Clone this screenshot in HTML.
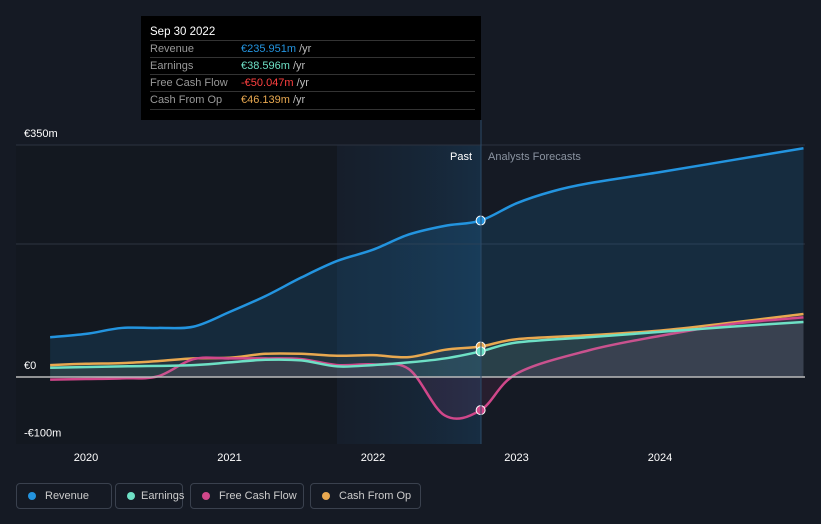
<!DOCTYPE html>
<html><head><meta charset="utf-8"><style>
body{margin:0;width:821px;height:524px;background:#151a24;font-family:"Liberation Sans",sans-serif;overflow:hidden;position:relative}
.tt{position:absolute;left:141px;top:16px;width:340px;height:104px;background:#000;color:#fff;font-size:11px}
.tt .h{position:absolute;left:9px;top:10px;font-size:11.5px}
.row{position:absolute;left:9px;width:325px;border-top:1px solid #333;height:17px;line-height:17px;color:#999}
.row span{position:absolute;left:91px}
.lg{position:absolute;top:483px;height:26px;border:1px solid #3a414e;border-radius:4px;color:#ccc;font-size:11px;line-height:24px;box-sizing:border-box;padding-left:28px;white-space:nowrap}
.lg i{position:absolute;left:11px;top:8px;width:8px;height:8px;border-radius:50%}
</style></head><body>
<svg id="c" width="821" height="524" style="position:absolute;left:0;top:0"></svg>
<div class="tt">
<div class="h">Sep 30 2022</div>
<div class="row" style="top:24px">Revenue<span style="color:#2394df">€235.951m <b style="color:#bbb;font-weight:normal">/yr</b></span></div>
<div class="row" style="top:41px">Earnings<span style="color:#6ee0c5">€38.596m <b style="color:#bbb;font-weight:normal">/yr</b></span></div>
<div class="row" style="top:58px">Free Cash Flow<span style="color:#ff4040">-€50.047m <b style="color:#bbb;font-weight:normal">/yr</b></span></div>
<div class="row" style="top:75px;border-bottom:1px solid #333">Cash From Op<span style="color:#e8a850">€46.139m <b style="color:#bbb;font-weight:normal">/yr</b></span></div>
</div>
<div class="lg" style="left:16px;width:96px"><i style="background:#2394df"></i>Revenue</div>
<div class="lg" style="left:115px;width:68px;padding-left:25px"><i style="background:#6ee0c5"></i>Earnings</div>
<div class="lg" style="left:190px;width:114px"><i style="background:#d0478a"></i>Free Cash Flow</div>
<div class="lg" style="left:310px;width:111px"><i style="background:#e8a850"></i>Cash From Op</div>
<script>
const revT=[2019.75,2020,2020.25,2020.5,2020.75,2021,2021.25,2021.5,2021.75,2022,2022.25,2022.5,2022.75,2023,2023.25,2023.5,2024,2024.5,2025];
const revV=[60,65,74,74,76,98,122,150,175,192,215,228,236,262,280,292,309,327,345];
const earnT=[2019.75,2020.25,2020.75,2021,2021.25,2021.5,2021.75,2022,2022.25,2022.5,2022.75,2023,2023.5,2024,2024.5,2025];
const earnV=[14,16,18,22,26,25,16,18,22,28,38.6,52,60,68,76,83];
const fcfT=[2019.75,2020,2020.25,2020.5,2020.75,2021,2021.25,2021.5,2021.75,2022,2022.25,2022.5,2022.75,2023,2023.5,2024,2024.5,2025];
const fcfV=[-4,-3,-2,1,27,28,28,27,18,19,12,-58,-50,5,40,62,80,90];
const cfoT=[2019.75,2020,2020.25,2020.5,2020.75,2021,2021.25,2021.5,2021.75,2022,2022.25,2022.5,2022.75,2023,2023.5,2024,2024.5,2025];
const cfoV=[18,20,21,24,28,29,35,35,32,33,30,41,46,57,63,70,82,95];
const yTicks=[350,0,-100];
const yLabels=["€350m","€0","-€100m"];
const xTicks=[2020,2021,2022,2023,2024];
const X=t=>86+(t-2020)*143.5, Y=v=>377-v*0.663;
const svg=document.getElementById('c');const NS='http://www.w3.org/2000/svg';
function add(tag,at,par){const e=document.createElementNS(NS,tag);for(const k in at)e.setAttribute(k,at[k]);(par||svg).appendChild(e);return e;}
svg.innerHTML='<defs><linearGradient id="hl" x1="0" x2="1"><stop offset="0" stop-color="#1a3550" stop-opacity=".15"/><stop offset="1" stop-color="#1a4a70" stop-opacity=".4"/></linearGradient></defs>';
let r=add('rect',{x:16,y:145,width:321,height:299,fill:'#131820'});
r=add('rect',{x:337,y:145,width:144,height:299,fill:'url(#hl)'});
[145,244].forEach(y=>{const l=add('line',{x1:16,x2:805,y1:y,y2:y,stroke:'#2c3340'});});
function path(T,V){const p=T.map((t,i)=>[X(t),Y(V[i])]);let d='M'+p[0];for(let i=0;i<p.length-1;i++){const a=p[i-1]||p[i],b=p[i],c=p[i+1],e=p[i+2]||c;const c1=[b[0]+(c[0]-a[0])/6,b[1]+(c[1]-a[1])/6],c2=[c[0]-(e[0]-b[0])/6,c[1]-(e[1]-b[1])/6];d+='C'+c1+' '+c2+' '+c;}return d;}
const series=[[revT,revV,'#2394df','rgba(35,148,223,0.15)','revenue'],[cfoT,cfoV,'#e8a850','rgba(232,168,80,0.07)','cash-from-op'],[fcfT,fcfV,'#d0478a','rgba(208,71,138,0.1)','free-cash-flow'],[earnT,earnV,'#6ee0c5','rgba(110,224,197,0.07)','earnings']];
series.forEach(([T,V,c,f,n])=>{const d=path(T,V);
let a=add('path',{d:d+'L'+X(T[T.length-1])+','+Y(0)+'L'+X(T[0])+','+Y(0)+'Z',fill:f});
let l=add('path',{d:d,fill:'none',stroke:c,'stroke-width':2.5});
const i=T.indexOf(2022.75);if(i>=0){let m=add('circle',{cx:X(2022.75),cy:Y(V[i]),r:4.5,fill:c,stroke:'#fff','stroke-width':1});}});
let z=add('line',{x1:16,x2:805,y1:Y(0),y2:Y(0),stroke:'#bbb','stroke-width':1.5});
let dv=add('line',{x1:481,x2:481,y1:120,y2:444,stroke:'#2b4a68'});
yTicks.forEach((v,i)=>{const t=add('text',{x:24,y:Y(v)-8,fill:'#fff','font-size':11});t.textContent=yLabels[i];if(v===-100)t.setAttribute('y',Y(v)-7);});
xTicks.forEach(v=>{const t=add('text',{x:X(v),y:461,fill:'#fff','font-size':11,'text-anchor':'middle'});t.textContent=v;});
let p=add('text',{x:472,y:160,fill:'#fff','font-size':11,'text-anchor':'end'});p.textContent='Past';
p=add('text',{x:488,y:160,fill:'#8a93a0','font-size':11});p.textContent='Analysts Forecasts';
</script></body></html>
